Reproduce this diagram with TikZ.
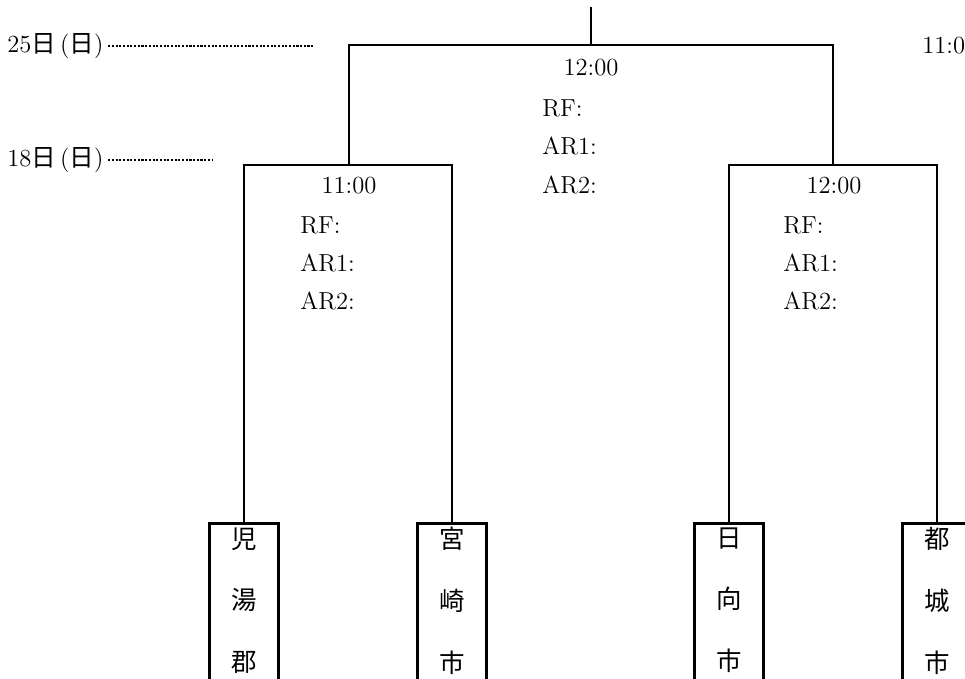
\documentclass[tikz,border=0pt]{standalone}
\usepackage{fontspec}
\newfontfamily\jp{Noto Sans CJK JP}
\usepackage{tikz}

\begin{document}
\begin{tikzpicture}[x=0.02cm, y=-0.02cm,
    every node/.style={inner sep=0pt, font=\fontsize{14}{16}\selectfont},
    wire/.style={line width=1.7pt},
    team/.style={draw, line width=1.7pt, minimum width=1.38cm, minimum height=4cm, anchor=north},
    city/.style={anchor=north, align=center, font=\fontsize{14.5}{35.2}\selectfont\jp},
    dots/.style={line width=1.2pt, dash pattern=on 1.2pt off 0.9pt, shorten <=2.5pt}]
        \useasboundingbox (0,0) rectangle (965,679);

        % Nodes
        \node[team] (kouyu) at (244,522) {};
        \node[team] (miyazaki) at (452,522) {};
        \node[team] (hyuga) at (729,522) {};
        \node[team] (miyakonojo) at (937,522) {};
        \node[city] (kouyutxt) at (244,527) {児\\湯\\郡};
        \node[city] (miyazakitxt) at (452,527) {宮\\崎\\市};
        \node[city] (hyugatxt) at (729,527) {日\\向\\市};
        \node[city] (miyakonojotxt) at (937,527) {都\\城\\市};

        \coordinate (semiL) at (349,165);
        \coordinate (semiR) at (833,165);
        \coordinate (final) at (591,45);
        \coordinate (top) at (591,7);

        \node (time0) at (591,68) {12:00};
        \node[anchor=west] (rf0) at (542,108) {RF:};
        \node[anchor=west] (ara0) at (542,146) {AR1:};
        \node[anchor=west] (arb0) at (542,185) {AR2:};

        \node (time1) at (349,186) {11:00};
        \node[anchor=west] (rf1) at (300,225) {RF:};
        \node[anchor=west] (ara1) at (300,263) {AR1:};
        \node[anchor=west] (arb1) at (300,301) {AR2:};

        \node (time2) at (834,186) {12:00};
        \node[anchor=west] (rf2) at (783,225) {RF:};
        \node[anchor=west] (ara2) at (783,263) {AR1:};
        \node[anchor=west] (arb2) at (783,301) {AR2:};

        \node[anchor=west] (time3) at (922,46) {11:00};

        \node[anchor=west] (d25) at (7,46) {25{\jp 日}\,({\jp 日})};
        \node[anchor=west] (d18) at (7,160) {18{\jp 日}\,({\jp 日})};
        \coordinate (d25end) at (313,45);
        \coordinate (d18end) at (212,162);

        % Edges
        \draw[wire] (kouyu.north) |- (semiL) -| (miyazaki.north);
        \draw[wire] (hyuga.north) |- (semiR) -| (miyakonojo.north);
        \draw[wire] (semiL) |- (final) -| (semiR);
        \draw[wire] (final) -- (top);

        \draw[dots] (d25.east) -- (d25.east -| d25end);
        \draw[dots] (d18.east) -- (d18.east -| d18end);
    \end{tikzpicture}
\end{document}
